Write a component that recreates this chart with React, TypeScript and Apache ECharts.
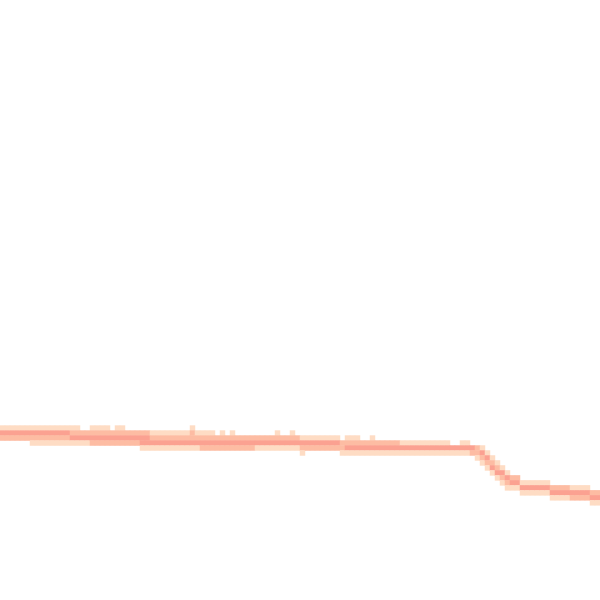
import { useEffect, useRef } from 'react';
import * as echarts from 'echarts';

// grid of 120 x 120 cells, each 5px
const colCount = 120;
const rowCount = 120;

// [first column, last column, top row, levels from the top row down ("0" = empty)]
const cellRuns: [number, number, number, string][] = [
  [0, 5, 85, '132'],
  [6, 13, 85, '1321'],
  [14, 15, 85, '1231'],
  [16, 17, 85, '0231'],
  [18, 21, 85, '1232'],
  [22, 22, 85, '0232'],
  [23, 24, 85, '1232'],
  [25, 27, 85, '0232'],
  [28, 29, 86, '2331'],
  [30, 37, 86, '1231'],
  [38, 38, 85, '12231'],
  [39, 39, 86, '1231'],
  [40, 42, 86, '1232'],
  [43, 43, 87, '232'],
  [44, 44, 86, '1232'],
  [45, 45, 87, '232'],
  [46, 46, 86, '1232'],
  [47, 50, 87, '232'],
  [51, 54, 87, '231'],
  [55, 55, 86, '1231'],
  [56, 57, 87, '231'],
  [58, 58, 86, '1231'],
  [59, 59, 87, '231'],
  [60, 60, 87, '1321'],
  [61, 67, 87, '132'],
  [68, 68, 88, '221'],
  [69, 71, 87, '1231'],
  [72, 73, 88, '231'],
  [74, 74, 87, '1231'],
  [75, 79, 88, '231'],
  [80, 89, 88, '131'],
  [90, 91, 89, '31'],
  [92, 93, 88, '131'],
  [94, 94, 89, '32'],
  [95, 95, 89, '221'],
  [96, 96, 89, '1321'],
  [97, 97, 90, '1321'],
  [98, 98, 91, '1231'],
  [99, 99, 92, '1231'],
  [100, 100, 93, '1321'],
  [101, 101, 94, '1321'],
  [102, 103, 95, '231'],
  [104, 109, 96, '131'],
  [110, 113, 97, '231'],
  [114, 117, 97, '132'],
  [118, 119, 98, '231'],
];

const levelColors = ['#fedcc4', '#fdbca3', '#fba191'];

export default function App() {
  const chartRef = useRef<HTMLDivElement>(null);

  useEffect(() => {
    if (!chartRef.current) return;
    const chart = echarts.init(chartRef.current, undefined, { renderer: 'svg' });

    const cells: number[][] = [];
    cellRuns.forEach(([c0, c1, top, levels]) => {
      for (let c = c0; c <= c1; c++) {
        levels.split('').forEach((l, i) => {
          const v = Number(l);
          if (v > 0) cells.push([c, top + i, v]);
        });
      }
    });

    const cols = Array.from({ length: colCount }, (_, i) => String(i));
    const rows = Array.from({ length: rowCount }, (_, i) => String(i));

    chart.setOption({
      animation: false,
      backgroundColor: '#ffffff',
      grid: { left: 0, top: 2, width: 600, height: 600 },
      xAxis: { type: 'category', data: cols, show: false },
      yAxis: { type: 'category', data: rows, inverse: true, show: false },
      visualMap: {
        type: 'piecewise',
        show: false,
        dimension: 2,
        pieces: levelColors.map((color, i) => ({ value: i + 1, color })),
      },
      series: [
        {
          type: 'heatmap',
          data: cells,
          itemStyle: { borderWidth: 0 },
          emphasis: { disabled: true },
        },
      ],
    });

    return () => chart.dispose();
  }, []);

  return (
    <div
      ref={chartRef}
      style={{ position: 'fixed', left: 0, top: 0, width: 600, height: 600 }}
    />
  );
}
